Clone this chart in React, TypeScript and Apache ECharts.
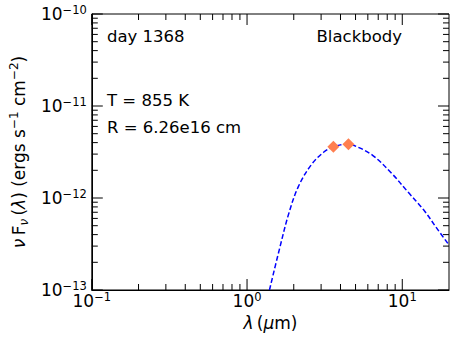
import React, { useEffect, useRef } from "react";
import * as echarts from "echarts";

// Blackbody curve (wavelength in micron, nu F_nu in erg s^-1 cm^-2)
const curveLambda = [1.395, 1.61, 1.858, 2.14, 2.59, 3.14, 3.6, 4.0, 4.5, 4.82, 6.41, 8.55, 10.84, 13.76, 16.67, 20.0];
const curveFlux = [1.0e-13, 2.7e-13, 6.8e-13, 1.33e-12, 2.29e-12, 3.18e-12, 3.6e-12, 3.78e-12, 3.84e-12, 3.77e-12, 2.93e-12, 1.85e-12, 1.17e-12, 7.4e-13, 4.7e-13, 3.08e-13];

// Observed photometry points
const obsLambda = [3.6, 4.5];
const obsFlux = [3.6e-12, 3.84e-12];

// Axis ranges and ticks
const X_MIN = 0.1;
const X_MAX = 20;
const Y_MIN = 1e-13;
const Y_MAX = 1e-10;
const xMajor = [0.1, 1, 10];
const xMinor = [0.2, 0.3, 0.4, 0.5, 0.6, 0.7, 0.8, 0.9, 2, 3, 4, 5, 6, 7, 8, 9];
const yMajor = [1e-13, 1e-12, 1e-11, 1e-10];
const yMinor = [2e-13, 3e-13, 4e-13, 5e-13, 6e-13, 7e-13, 8e-13, 9e-13, 2e-12, 3e-12, 4e-12, 5e-12, 6e-12, 7e-12, 8e-12, 9e-12, 2e-11, 3e-11, 4e-11, 5e-11, 6e-11, 7e-11, 8e-11, 9e-11];

const FONT = "DejaVu Sans";

const powLabel = (v: number) => {
  const l = Math.log10(v);
  const e = Math.round(l);
  if (Math.abs(l - e) > 1e-6) return "";
  return `{b|10}{s|${e < 0 ? "\u2212" : ""}${Math.abs(e)}}`;
};

const tickRich = {
  b: { fontSize: 17, fontFamily: FONT, color: "#000", lineHeight: 20, verticalAlign: "middle" },
  s: { fontSize: 11.5, fontFamily: FONT, color: "#000", lineHeight: 10, verticalAlign: "top" },
};

export default function App() {
  const ref = useRef<HTMLDivElement>(null);
  useEffect(() => {
    if (!ref.current) return;
    const chart = echarts.init(ref.current, null, { renderer: "svg" });
    const MAJ = 11;
    const MIN = 6;
    const xTickSeries = (vals: number[], len: number) => ({
      type: "custom",
      coordinateSystem: "cartesian2d",
      silent: true,
      z: 5,
      data: vals.map((v) => [v, Y_MIN]),
      renderItem: (params: any, api: any) => {
        const cs = params.coordSys;
        const x = api.coord([api.value(0), Y_MIN])[0];
        const top = cs.y;
        const bottom = cs.y + cs.height;
        return {
          type: "group",
          children: [
            { type: "line", shape: { x1: x, y1: bottom, x2: x, y2: bottom - len }, style: { stroke: "#000", lineWidth: 1 } },
            { type: "line", shape: { x1: x, y1: top, x2: x, y2: top + len }, style: { stroke: "#000", lineWidth: 1 } },
          ],
        };
      },
    });
    const yTickSeries = (vals: number[], len: number) => ({
      type: "custom",
      coordinateSystem: "cartesian2d",
      silent: true,
      z: 5,
      data: vals.map((v) => [X_MIN, v]),
      renderItem: (params: any, api: any) => {
        const cs = params.coordSys;
        const y = api.coord([X_MIN, api.value(1)])[1];
        const left = cs.x;
        const right = cs.x + cs.width;
        return {
          type: "group",
          children: [
            { type: "line", shape: { x1: left, y1: y, x2: left + len, y2: y }, style: { stroke: "#000", lineWidth: 1 } },
            { type: "line", shape: { x1: right, y1: y, x2: right - len, y2: y }, style: { stroke: "#000", lineWidth: 1 } },
          ],
        };
      },
    });

    chart.setOption({
      animation: false,
      grid: {
        left: 79,
        right: 8,
        top: 14,
        bottom: 49,
        show: true,
        borderColor: "#000",
        borderWidth: 1,
        backgroundColor: "transparent",
      },
      xAxis: {
        type: "log",
        logBase: 10,
        min: X_MIN,
        max: X_MAX,
        axisLine: { show: true, lineStyle: { color: "#000", width: 1 } },
        axisTick: { show: false },
        splitLine: { show: false },
        axisLabel: {
          formatter: powLabel,
          rich: tickRich,
          margin: 1,
          showMaxLabel: false,
        },
        name: "{i|\u03bb} {n|(}{i|\u03bc}{n|m)}",
        nameLocation: "middle",
        nameGap: 20,
        nameTextStyle: {
          rich: {
            i: { fontSize: 17, fontFamily: FONT, fontStyle: "italic", color: "#000", lineHeight: 20 },
            n: { fontSize: 17, fontFamily: FONT, color: "#000", lineHeight: 20 },
          },
        },
      },
      yAxis: {
        type: "log",
        logBase: 10,
        min: Y_MIN,
        max: Y_MAX,
        axisLine: { show: true, lineStyle: { color: "#000", width: 1 } },
        axisTick: { show: false },
        splitLine: { show: false },
        axisLabel: {
          formatter: powLabel,
          rich: tickRich,
          margin: 5,
        },
        name: "{i|\u03bd} {n|F}{sub|\u03bd} {n|(}{i|\u03bb}{n|) (ergs s}{sup|\u22121}{n| cm}{sup|\u22122}{n|)}",
        nameLocation: "middle",
        nameRotate: 90,
        nameGap: 49,
        nameTextStyle: {
          rich: {
            n: { fontSize: 17, fontFamily: FONT, color: "#000", lineHeight: 22, verticalAlign: "middle" },
            i: { fontSize: 17, fontFamily: FONT, fontStyle: "italic", color: "#000", lineHeight: 22, verticalAlign: "middle" },
            sub: { fontSize: 12, fontFamily: FONT, fontStyle: "italic", color: "#000", lineHeight: 12, verticalAlign: "bottom" },
            sup: { fontSize: 12, fontFamily: FONT, color: "#000", lineHeight: 12, verticalAlign: "top" },
          },
        },
      },
      graphic: [
        { type: "text", x: 107, y: 36, style: { text: "day 1368", font: `16.5px "${FONT}"`, fill: "#000", verticalAlign: "middle" } },
        { type: "text", x: 402, y: 36, style: { text: "Blackbody", font: `16.5px "${FONT}"`, fill: "#000", verticalAlign: "middle", align: "right" } },
        { type: "text", x: 107, y: 100, style: { text: "T = 855 K", font: `16.5px "${FONT}"`, fill: "#000", verticalAlign: "middle" } },
        { type: "text", x: 107, y: 127, style: { text: "R = 6.26e16 cm", font: `16.5px "${FONT}"`, fill: "#000", verticalAlign: "middle" } },
      ],
      series: [
        xTickSeries(xMajor, MAJ),
        xTickSeries(xMinor, MIN),
        yTickSeries(yMajor, MAJ),
        yTickSeries(yMinor, MIN),
        {
          type: "line",
          data: curveLambda.map((l, i) => [l, curveFlux[i]]),
          smooth: 0.35,
          showSymbol: false,
          symbol: "none",
          clip: true,
          lineStyle: { color: "#0000ff", width: 1.5, type: [5, 2.5] },
          z: 3,
        },
        {
          type: "scatter",
          data: obsLambda.map((l, i) => [l, obsFlux[i]]),
          symbol: "diamond",
          symbolSize: [12, 12],
          itemStyle: { color: "#ff7f50", opacity: 1 },
          z: 4,
        },
      ],
    });
    return () => chart.dispose();
  }, []);
  return <div ref={ref} style={{ width: 457, height: 339, position: "absolute", left: 0, top: 0 }} />;
}
